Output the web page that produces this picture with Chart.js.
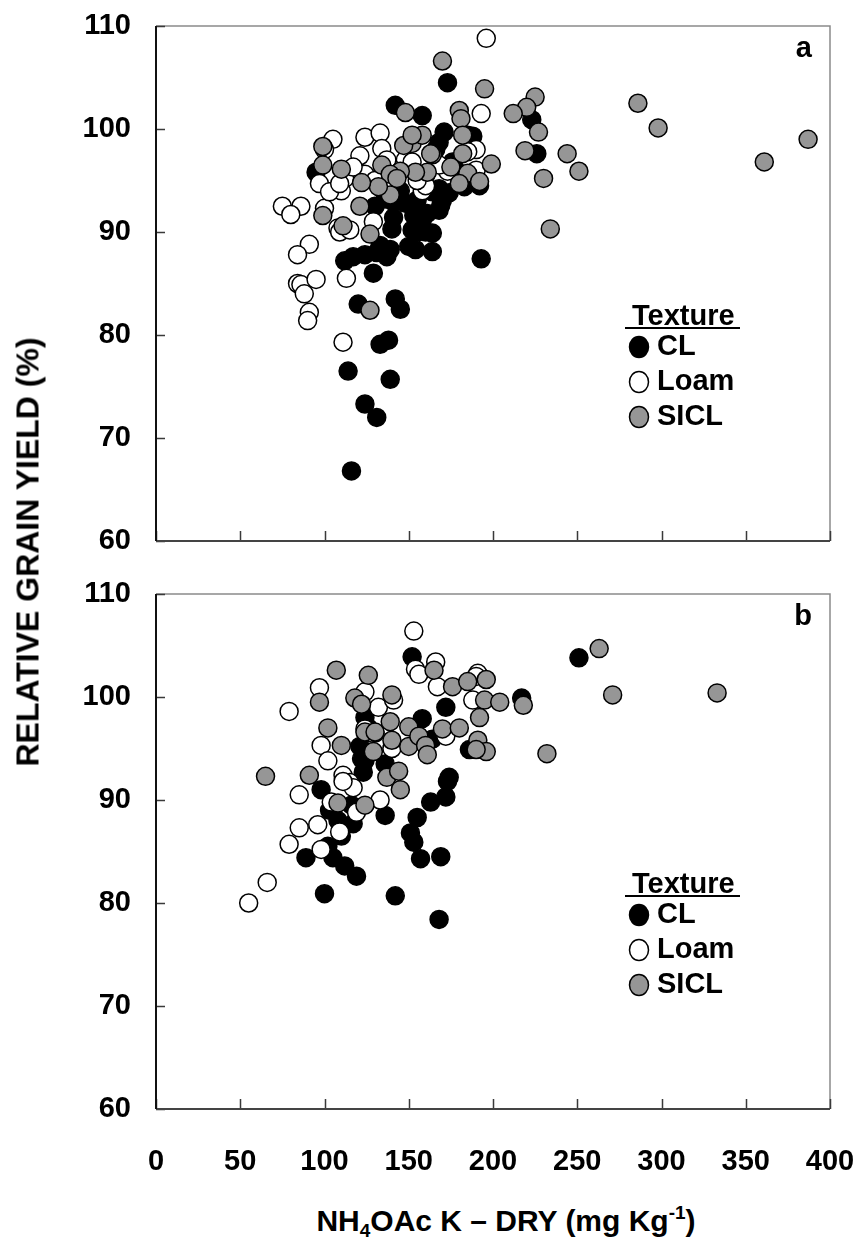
<!DOCTYPE html>
<html>
<head>
<meta charset="utf-8">
<title>Relative grain yield vs NH4OAc K</title>
<script src="https://cdn.jsdelivr.net/npm/chart.js@4.4.0/dist/chart.umd.min.js"></script>
<style>
    body {
        margin: 0;
        background: #fff;
        width: 858px;
        height: 1237px;
        position: relative;
        overflow: hidden;
        font-family: "Liberation Sans", Arial, sans-serif;
        font-weight: bold;
        color: #000;
    }
    #panel-a { position: absolute; left: 0; top: 0; }
    #panel-b { position: absolute; left: 0; top: 570px; }
    #y-title {
        position: absolute;
        left: 28px;
        top: 552px;
        transform: translate(-50%, -50%) rotate(-90deg);
        white-space: nowrap;
        font-size: 32px;
    }
    #x-title {
        position: absolute;
        left: 506px;
        top: 1222px;
        transform: translate(-50%, -50%);
        white-space: nowrap;
        font-size: 30px;
    }
    #x-title sub { font-size: 19px; vertical-align: -6px; }
    #x-title sup { font-size: 19px; vertical-align: 12px; }
</style>
</head>
<body>
<canvas id="panel-a" width="858" height="570"></canvas>
<canvas id="panel-b" width="858" height="620"></canvas>
<div id="y-title">RELATIVE GRAIN YIELD (%)</div>
<div id="x-title">NH<sub>4</sub>OAc K – DRY (mg Kg<sup>-1</sup>)</div>

<script>
// [NH4OAc K, relative yield] per texture, panel a
const clA = [
    [116, 66.8], [124, 73.3], [131, 72.0], [114, 76.5], [139, 75.7], [133, 79.1], [138, 79.5],
    [142, 83.5], [145, 82.5], [120, 83.0], [129, 86.0], [112, 87.2], [117, 87.6], [124, 87.8],
    [131, 88.0], [137, 87.6], [139, 88.3], [133, 88.7], [140, 90.3], [141, 91.4], [154, 88.3],
    [164, 88.1], [164, 89.9], [152, 90.2], [155, 90.0], [153, 91.6], [158, 91.1], [161, 91.8],
    [168, 92.1], [170, 93.1], [193, 87.4], [174, 93.8], [168, 94.2], [130, 92.5], [136, 93.2],
    [141, 92.9], [148, 92.8], [155, 93.1], [164, 93.9], [169, 92.6], [95, 95.8], [142, 102.3],
    [158, 101.3], [173, 104.5], [171, 99.7], [168, 98.7], [185, 99.4], [223, 100.9], [226, 97.6],
    [192, 94.5], [183, 94.4], [160, 95.5], [150, 96.5], [178, 96.0], [145, 94.0], [160, 90.0],
    [150, 88.6], [166, 98.0], [176, 96.8], [188, 99.3]
];
const loamA = [
    [196, 108.8], [193, 101.5], [190, 98.0], [75, 92.5], [86, 92.5], [80, 91.7], [91, 88.8],
    [84, 87.8], [84, 85.0], [86, 84.9], [95, 85.4], [88, 84.0], [91, 82.2], [90, 81.4],
    [111, 79.3], [113, 85.5], [108, 90.4], [109, 90.0], [100, 92.3], [97, 94.7], [105, 99.0],
    [124, 99.2], [133, 99.6], [121, 97.4], [134, 98.1], [110, 94.0], [112, 95.2], [124, 95.6],
    [129, 91.0], [115, 90.2], [158, 94.0], [173, 95.9], [103, 93.9], [109, 94.7], [148, 97.0],
    [160, 94.5], [152, 96.8], [190, 96.0], [130, 95.0], [141, 96.0], [117, 96.3], [100, 98.0],
    [168, 96.5], [185, 97.8], [137, 97.0], [155, 95.0]
];
const siclA = [
    [170, 106.6], [195, 103.9], [225, 103.1], [220, 102.1], [212, 101.5], [286, 102.5], [298, 100.1],
    [387, 99.0], [361, 96.8], [227, 99.7], [219, 97.9], [244, 97.6], [251, 95.9], [230, 95.2],
    [234, 90.3], [199, 96.6], [180, 101.8], [181, 101.0], [182, 99.4], [182, 97.6], [185, 95.7],
    [180, 94.7], [192, 94.9], [175, 96.3], [164, 97.5], [161, 95.8], [154, 95.8], [152, 98.6],
    [147, 98.4], [148, 101.6], [158, 99.4], [152, 99.4], [145, 95.9], [134, 96.5], [139, 95.6],
    [139, 93.6], [132, 94.4], [122, 94.8], [110, 96.1], [99, 96.5], [99, 98.3], [99, 91.6],
    [121, 92.5], [111, 90.6], [127, 89.8], [127, 82.4], [143, 95.2], [163, 97.6]
];

// panel b
const clB = [
    [251, 103.8], [152, 103.9], [217, 99.9], [172, 99.0], [158, 97.9], [124, 98.0], [186, 94.9],
    [174, 92.2], [173, 91.8], [172, 90.3], [163, 89.8], [155, 88.3], [136, 88.5], [151, 86.8],
    [153, 85.9], [157, 84.3], [169, 84.5], [98, 91.0], [103, 89.0], [108, 88.0], [117, 87.7],
    [102, 85.5], [105, 84.4], [112, 83.6], [119, 82.6], [89, 84.4], [100, 80.9], [142, 80.7],
    [168, 78.4], [121, 95.2], [122, 94.0], [123, 92.7], [124, 93.8], [136, 93.5], [164, 95.9],
    [130, 96.5], [116, 89.5], [126, 97.0], [110, 86.5]
];
const loamB = [
    [153, 106.4], [154, 102.7], [156, 102.2], [166, 103.4], [167, 101.0], [79, 98.6], [97, 100.9],
    [124, 100.5], [132, 99.0], [141, 99.7], [98, 95.3], [102, 93.8], [111, 92.4], [115, 91.7],
    [117, 91.2], [85, 90.5], [85, 87.3], [96, 87.6], [79, 85.7], [98, 85.2], [109, 86.9],
    [119, 88.8], [133, 90.0], [104, 89.8], [66, 82.0], [55, 80.0], [191, 102.3], [188, 99.7],
    [172, 96.2], [140, 95.0], [124, 96.9], [111, 91.8], [190, 102.0], [128, 96.5]
];
const siclB = [
    [263, 104.7], [271, 100.2], [333, 100.4], [232, 94.5], [107, 102.6], [126, 102.1], [165, 102.6],
    [176, 101.0], [185, 101.5], [196, 101.7], [195, 99.7], [204, 99.5], [218, 99.2], [192, 98.0],
    [191, 95.8], [196, 94.7], [97, 99.5], [118, 99.9], [122, 99.3], [140, 100.2], [102, 97.0],
    [110, 95.3], [65, 92.3], [91, 92.4], [108, 89.7], [124, 89.5], [137, 92.2], [144, 92.8],
    [145, 91.0], [124, 96.6], [130, 96.6], [129, 94.7], [139, 97.6], [140, 95.8], [150, 97.1],
    [150, 95.2], [156, 96.2], [160, 95.3], [170, 96.9], [180, 97.0], [190, 94.9], [161, 94.4]
];

const textures = ['CL', 'Loam', 'SICL'];
const fills = ['#000000', '#ffffff', '#969696'];
const xTicks = [0, 50, 100, 150, 200, 250, 300, 350, 400];
const yTicks = [60, 70, 80, 90, 100, 110];

const FONT = '"Liberation Sans", Arial, sans-serif';

// box edges, inward tick marks, panel letter and texture key
const framePlugin = {
    id: 'frame',
    afterDraw(chart, args, opts) {
        const { ctx, chartArea: a, scales: { x, y } } = chart;
        ctx.save();

        ctx.strokeStyle = '#8a8a8a';
        ctx.lineWidth = 1.5;
        ctx.beginPath();
        ctx.moveTo(a.left, a.top);
        ctx.lineTo(a.right, a.top);
        ctx.lineTo(a.right, a.bottom);
        ctx.stroke();

        ctx.strokeStyle = '#3a3a3a';
        ctx.beginPath();
        xTicks.forEach(v => {
            const px = Math.round(x.getPixelForValue(v)) + 0.5;
            ctx.moveTo(px, a.bottom);
            ctx.lineTo(px, a.bottom - 10);
        });
        yTicks.forEach(v => {
            const py = Math.round(y.getPixelForValue(v)) + 0.5;
            ctx.moveTo(a.left, py);
            ctx.lineTo(a.left + 9, py);
        });
        ctx.stroke();

        ctx.lineWidth = 2;
        ctx.strokeStyle = '#444';
        ctx.beginPath();
        ctx.moveTo(a.left, a.bottom);
        ctx.lineTo(a.right, a.bottom);
        ctx.stroke();
        ctx.strokeStyle = '#111';
        ctx.beginPath();
        ctx.moveTo(a.left, a.top);
        ctx.lineTo(a.left, a.bottom);
        ctx.stroke();

        ctx.fillStyle = '#000';
        ctx.font = 'bold 29px ' + FONT;
        ctx.textAlign = 'right';
        ctx.textBaseline = 'alphabetic';
        ctx.fillText(opts.letter, a.right - 18, a.top + 31);

        // texture key
        const lx = 632, ly = a.top + 299;
        ctx.textAlign = 'left';
        ctx.fillText('Texture', lx, ly);
        ctx.lineWidth = 2;
        ctx.strokeStyle = '#000';
        ctx.beginPath();
        ctx.moveTo(lx - 7, ly + 3);
        ctx.lineTo(lx + 108, ly + 3);
        ctx.stroke();

        textures.forEach((name, i) => {
            const cy = a.top + 321 + i * 35;
            ctx.beginPath();
            ctx.ellipse(lx + 7, cy, 9.5, 10.5, 0, 0, Math.PI * 2);
            ctx.fillStyle = fills[i];
            ctx.fill();
            ctx.lineWidth = 1.5;
            ctx.strokeStyle = '#000';
            ctx.stroke();
            ctx.fillStyle = '#000';
            ctx.textBaseline = 'middle';
            ctx.fillText(name, lx + 25, cy);
        });
        ctx.restore();
    }
};

function makeDatasets(cl, loam, sicl) {
    return [cl, loam, sicl].map((pts, i) => ({
        label: textures[i],
        data: pts.map(p => ({ x: p[0], y: p[1] })),
        backgroundColor: fills[i],
        borderColor: '#000',
        borderWidth: 1.5,
        pointRadius: 9,
        pointHoverRadius: 9,
        // CL underneath, SICL on top
        order: 3 - i
    }));
}

// fixed axis sizes so both plot boxes line up
function fixX(showLabels) {
    return s => {
        s.height = showLabels ? 81 : 0;
        s.paddingLeft = 0;
        s.paddingRight = 0;
    };
}
function fixY(s) {
    s.width = 156;
    s.paddingTop = 0;
    s.paddingBottom = 0;
}

function makeChart(id, datasets, letter, showXLabels) {
    const ctx = document.getElementById(id).getContext('2d');
    return new Chart(ctx, {
        type: 'scatter',
        data: { datasets: datasets },
        options: {
            responsive: false,
            animation: false,
            devicePixelRatio: 1,
            layout: {
                padding: showXLabels
                    ? { top: 24, right: 28, bottom: 0, left: 0 }
                    : { top: 26, right: 28, bottom: 29, left: 0 }
            },
            plugins: {
                legend: { display: false },
                tooltip: { enabled: false },
                frame: { letter: letter }
            },
            scales: {
                x: {
                    type: 'linear',
                    min: 0,
                    max: 400,
                    grid: { display: false, drawTicks: false },
                    border: { display: false },
                    ticks: {
                        display: showXLabels,
                        stepSize: 50,
                        padding: 36,
                        color: '#000',
                        font: { family: FONT, size: 29, weight: 'bold' }
                    },
                    afterFit: fixX(showXLabels)
                },
                y: {
                    min: 60,
                    max: 110,
                    grid: { display: false, drawTicks: false },
                    border: { display: false },
                    ticks: {
                        stepSize: 10,
                        padding: 25,
                        color: '#000',
                        font: { family: FONT, size: 29, weight: 'bold' }
                    },
                    afterFit: fixY
                }
            }
        },
        plugins: [framePlugin]
    });
}

makeChart('panel-a', makeDatasets(clA, loamA, siclA), 'a', false);
makeChart('panel-b', makeDatasets(clB, loamB, siclB), 'b', true);
</script>
</body>
</html>
